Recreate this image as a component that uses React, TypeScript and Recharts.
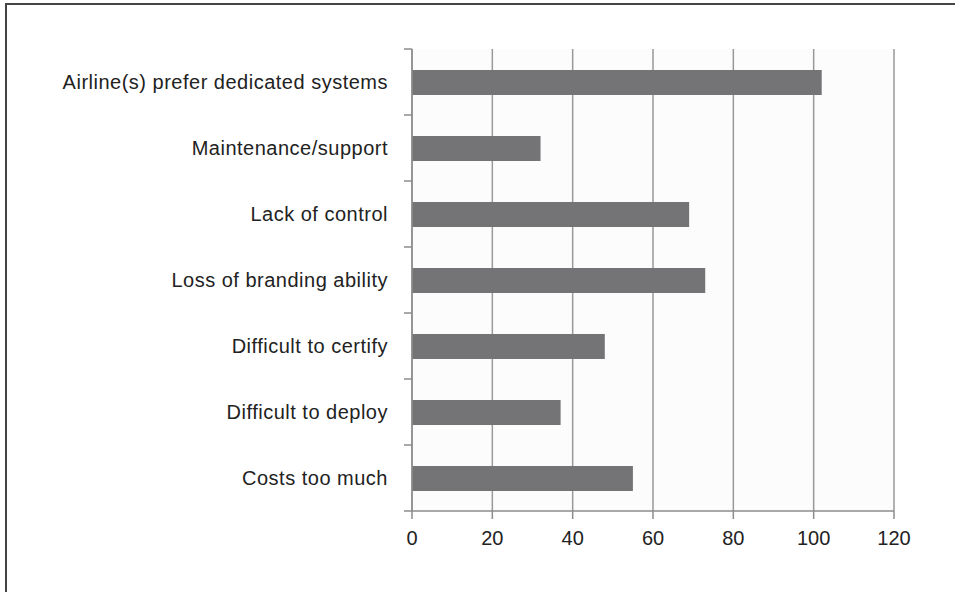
import React from "react";
import { BarChart, Bar, XAxis, YAxis, CartesianGrid } from "recharts";

const categories = [
  "Airline(s) prefer dedicated systems",
  "Maintenance/support",
  "Lack of control",
  "Loss of branding ability",
  "Difficult to certify",
  "Difficult to deploy",
  "Costs too much",
];
const counts = [102, 32, 69, 73, 48, 37, 55];
const xTicks = [0, 20, 40, 60, 80, 100, 120];

const data = categories.map((name, i) => ({ name, value: counts[i] }));

const TICK_SIZE = 8;
const TICK_MARGIN = 16;
const FONT = "Liberation Sans, Arial, sans-serif";

// category labels, with the little tick marks on the band edges (Excel style)
const CategoryTick = (props: any) => {
  const { x, y, payload, index, visibleTicksCount } = props;
  const half = payload?.offset ?? 33;
  const lx = x + TICK_MARGIN;
  return (
    <g>
      <line x1={lx} x2={lx + TICK_SIZE} y1={y - half} y2={y - half} stroke="#8c8c8c" strokeWidth={1.5} />
      {index === visibleTicksCount - 1 && (
        <line x1={lx} x2={lx + TICK_SIZE} y1={y + half} y2={y + half} stroke="#8c8c8c" strokeWidth={1.5} />
      )}
      <text
        x={x}
        y={y}
        dy="0.35em"
        textAnchor="end"
        fill="#222"
        fontSize={20}
        letterSpacing={0.5}
        fontFamily={FONT}
      >
        {payload.value}
      </text>
    </g>
  );
};

const App: React.FC = () => {
  return (
    <div style={{ position: "absolute", left: 0, top: 0, width: 955, height: 592, background: "#fff" }}>
      <div
        style={{
          position: "absolute",
          left: 5,
          top: 3,
          right: 0,
          bottom: 0,
          borderTop: "2px solid #444",
          borderLeft: "2px solid #444",
        }}
      />
      <div style={{ position: "absolute", left: 0, top: 0 }}>
        <BarChart
          width={955}
          height={592}
          data={data}
          layout="vertical"
          margin={{ top: 49, right: 61, bottom: 51, left: 0 }}
        >
          <CartesianGrid horizontal={false} stroke="#999" strokeWidth={1.5} fill="#fcfcfc" />
          <XAxis
            type="number"
            domain={[0, 120]}
            ticks={xTicks}
            interval={0}
            height={30}
            tickSize={TICK_SIZE}
            tickMargin={12}
            axisLine={{ stroke: "#8c8c8c", strokeWidth: 1.5 }}
            tickLine={{ stroke: "#8c8c8c", strokeWidth: 1.5 }}
            tick={{ fill: "#222", fontSize: 20, fontFamily: FONT }}
          />
          <YAxis
            type="category"
            dataKey="name"
            width={412}
            interval={0}
            tickSize={TICK_SIZE}
            tickMargin={TICK_MARGIN}
            tickLine={false}
            axisLine={{ stroke: "#8c8c8c", strokeWidth: 1.5 }}
            tick={<CategoryTick />}
          />
          <Bar dataKey="value" fill="#747477" barSize={25} isAnimationActive={false} />
        </BarChart>
      </div>
    </div>
  );
};

export default App;
